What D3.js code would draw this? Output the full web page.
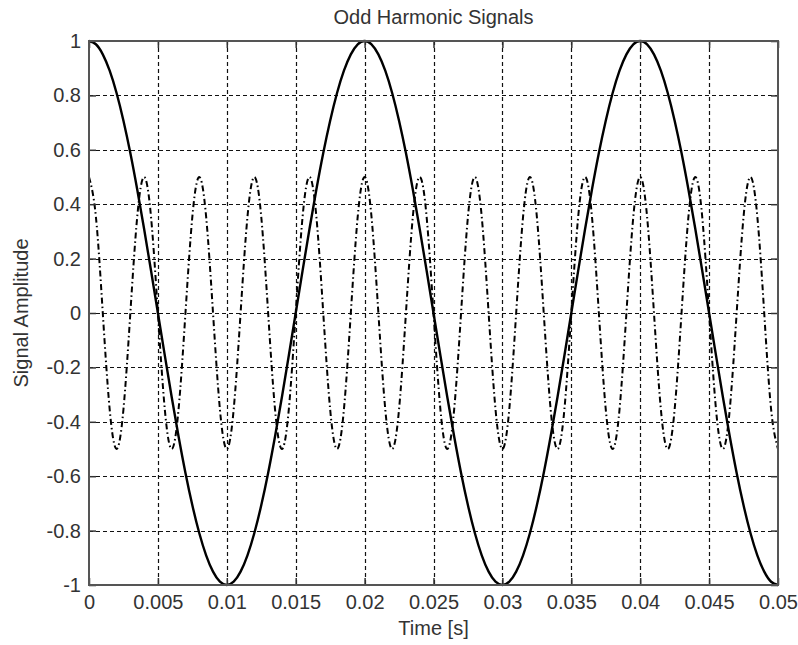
<!DOCTYPE html>
<html>
<head>
<meta charset="utf-8">
<script src="https://cdn.jsdelivr.net/npm/d3@7"></script>
<style>
  html, body { margin: 0; padding: 0; background: #fff; }
  svg { display: block; }
  text { font-family: "Liberation Sans", Arial, sans-serif; fill: #333; }
</style>
</head>
<body>
<svg id="chart" width="798" height="645"></svg>
<script>
// ---- data ----
const title = "Odd Harmonic Signals";
const xLabel = "Time [s]";
const yLabel = "Signal Amplitude";
const xTicks = [0, 0.005, 0.01, 0.015, 0.02, 0.025, 0.03, 0.035, 0.04, 0.045, 0.05];
const xTickLabels = ["0", "0.005", "0.01", "0.015", "0.02", "0.025", "0.03", "0.035", "0.04", "0.045", "0.05"];
const yTicks = [-1, -0.8, -0.6, -0.4, -0.2, 0, 0.2, 0.4, 0.6, 0.8, 1];
const yTickLabels = ["-1", "-0.8", "-0.6", "-0.4", "-0.2", "0", "0.2", "0.4", "0.6", "0.8", "1"];

// time samples every 0.0005 s (0 .. 0.05)
const timeSamples = d3.range(0, 101).map(i => +(i * 0.0005).toFixed(4));

// fundamental (solid) sampled values
const fundamental = [
  1, 0.988, 0.951, 0.891, 0.809, 0.707, 0.588, 0.454, 0.309, 0.156,
  0, -0.156, -0.309, -0.454, -0.588, -0.707, -0.809, -0.891, -0.951, -0.988,
  -1, -0.988, -0.951, -0.891, -0.809, -0.707, -0.588, -0.454, -0.309, -0.156,
  0, 0.156, 0.309, 0.454, 0.588, 0.707, 0.809, 0.891, 0.951, 0.988,
  1, 0.988, 0.951, 0.891, 0.809, 0.707, 0.588, 0.454, 0.309, 0.156,
  0, -0.156, -0.309, -0.454, -0.588, -0.707, -0.809, -0.891, -0.951, -0.988,
  -1, -0.988, -0.951, -0.891, -0.809, -0.707, -0.588, -0.454, -0.309, -0.156,
  0, 0.156, 0.309, 0.454, 0.588, 0.707, 0.809, 0.891, 0.951, 0.988,
  1, 0.988, 0.951, 0.891, 0.809, 0.707, 0.588, 0.454, 0.309, 0.156,
  0, -0.156, -0.309, -0.454, -0.588, -0.707, -0.809, -0.891, -0.951, -0.988,
  -1
];

// fifth harmonic (dash-dot) sampled values
const harmonic = [
  0.5, 0.354, 0, -0.354, -0.5, -0.354, 0, 0.354,
  0.5, 0.354, 0, -0.354, -0.5, -0.354, 0, 0.354,
  0.5, 0.354, 0, -0.354, -0.5, -0.354, 0, 0.354,
  0.5, 0.354, 0, -0.354, -0.5, -0.354, 0, 0.354,
  0.5, 0.354, 0, -0.354, -0.5, -0.354, 0, 0.354,
  0.5, 0.354, 0, -0.354, -0.5, -0.354, 0, 0.354,
  0.5, 0.354, 0, -0.354, -0.5, -0.354, 0, 0.354,
  0.5, 0.354, 0, -0.354, -0.5, -0.354, 0, 0.354,
  0.5, 0.354, 0, -0.354, -0.5, -0.354, 0, 0.354,
  0.5, 0.354, 0, -0.354, -0.5, -0.354, 0, 0.354,
  0.5, 0.354, 0, -0.354, -0.5, -0.354, 0, 0.354,
  0.5, 0.354, 0, -0.354, -0.5, -0.354, 0, 0.354,
  0.5, 0.354, 0, -0.354, -0.5
];

// ---- layout ----
const L = 89, R = 778, T = 41, B = 585;
const svg = d3.select("#chart");
const x = d3.scaleLinear().domain([0, 0.05]).range([L, R]);
const y = d3.scaleLinear().domain([-1, 1]).range([B, T]);
const fontSize = 20;

// grid
const grid = svg.append("g");
grid.selectAll("line.vg").data(xTicks.slice(1, -1)).join("line")
  .attr("x1", d => Math.round(x(d)) + 0.5).attr("x2", d => Math.round(x(d)) + 0.5)
  .attr("y1", T).attr("y2", B)
  .attr("stroke", "#111").attr("stroke-width", 1.2).attr("stroke-dasharray", "4,3");
grid.selectAll("line.hg").data(yTicks.slice(1, -1)).join("line")
  .attr("y1", d => Math.round(y(d)) + 0.5).attr("y2", d => Math.round(y(d)) + 0.5)
  .attr("x1", L).attr("x2", R)
  .attr("stroke", "#111").attr("stroke-width", 1.2).attr("stroke-dasharray", "4,3");

// curves
const pts1 = timeSamples.map((t, i) => [t, fundamental[i]]);
const pts2 = timeSamples.map((t, i) => [t, harmonic[i]]);
const line = d3.line().x(d => x(d[0])).y(d => y(d[1])).curve(d3.curveNatural);

svg.append("path").attr("d", line(pts2))
  .attr("fill", "none").attr("stroke", "#000").attr("stroke-width", 2)
  .attr("stroke-dasharray", "6,3,1.5,3");
svg.append("path").attr("d", line(pts1))
  .attr("fill", "none").attr("stroke", "#000").attr("stroke-width", 2.4);

// axes with inward ticks on all four sides
const tickLen = 7;
const axB = svg.append("g").attr("transform", `translate(0,${B})`)
  .call(d3.axisBottom(x).tickValues(xTicks).tickSize(-tickLen).tickPadding(10)
    .tickFormat((d, i) => xTickLabels[i]));
const axT = svg.append("g").attr("transform", `translate(0,${T})`)
  .call(d3.axisTop(x).tickValues(xTicks).tickSize(-tickLen).tickFormat(""));
const axL = svg.append("g").attr("transform", `translate(${L},0)`)
  .call(d3.axisLeft(y).tickValues(yTicks).tickSize(-tickLen).tickPadding(8)
    .tickFormat((d, i) => yTickLabels[i]));
const axR = svg.append("g").attr("transform", `translate(${R},0)`)
  .call(d3.axisRight(y).tickValues(yTicks).tickSize(-tickLen).tickFormat(""));

[axB, axT, axL, axR].forEach(a => {
  a.select(".domain").remove();
  a.selectAll(".tick line").attr("stroke", "#333").attr("stroke-width", 1.5);
  a.selectAll("text").attr("font-size", fontSize).attr("fill", "#333")
    .style("font-family", "'Liberation Sans', Arial, sans-serif");
});
axB.selectAll("text").attr("dy", "0.71em");

// box
svg.append("rect").attr("x", L).attr("y", T).attr("width", R - L).attr("height", B - T)
  .attr("fill", "none").attr("stroke", "#555").attr("stroke-width", 2);

// labels
svg.append("text").attr("x", (L + R) / 2).attr("y", 24).attr("text-anchor", "middle")
  .attr("font-size", fontSize).text(title);
svg.append("text").attr("x", (L + R) / 2).attr("y", 635).attr("text-anchor", "middle")
  .attr("font-size", fontSize).text(xLabel);
svg.append("text").attr("transform", `translate(28,${(T + B) / 2}) rotate(-90)`)
  .attr("text-anchor", "middle").attr("font-size", fontSize).text(yLabel);
</script>
</body>
</html>
